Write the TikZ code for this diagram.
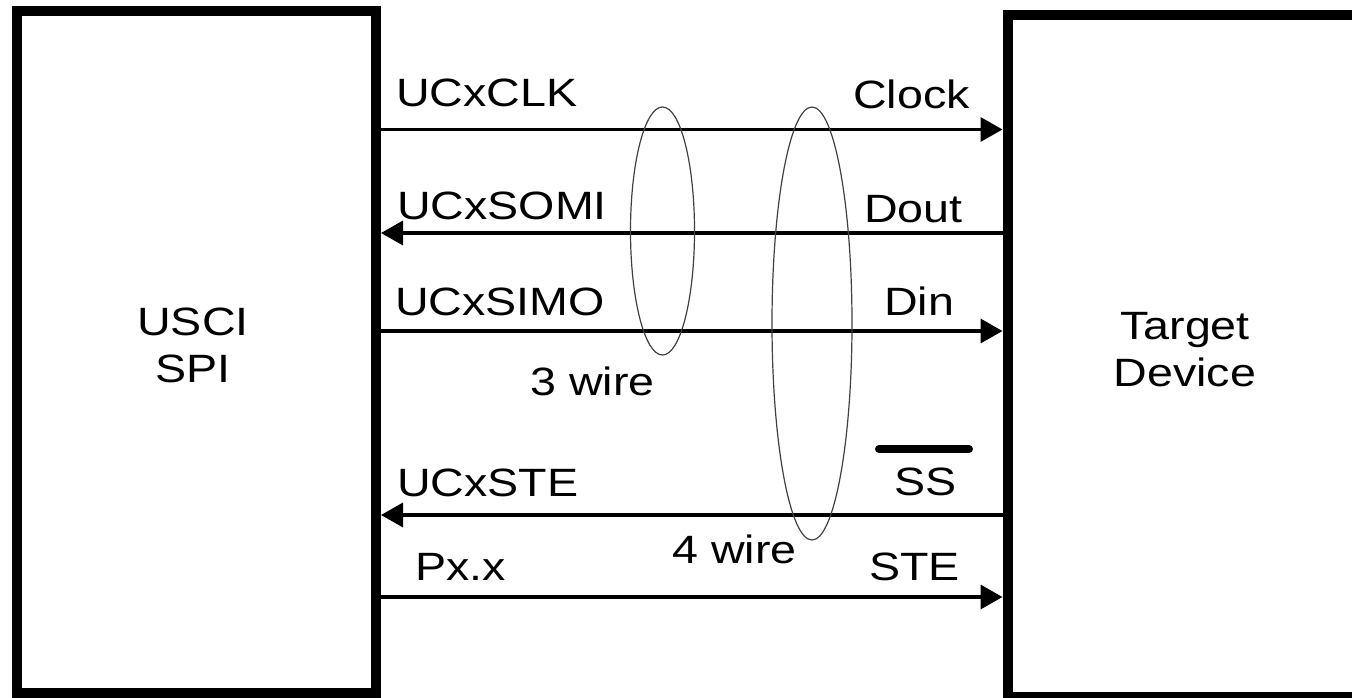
\documentclass[tikz,border=0pt]{standalone}
\usepackage{fontspec}
\newfontfamily\lab[FakeStretch=1.18]{Liberation Sans}
\usetikzlibrary{arrows.meta,shapes.geometric}
\tikzset{
  blk/.style={draw, line width=10pt, rectangle, inner sep=0pt},
  wire/.style={line width=3.5pt, -{Triangle[length=22pt,width=24pt]}},
  lbl/.style={anchor=base west, inner sep=0pt, font=\lab\fontsize{39.5}{46}\selectfont},
  big/.style={align=center, inner sep=0pt, font=\lab\fontsize{39.5}{47}\selectfont},
  grp/.style={draw=black!75, line width=1.2pt, ellipse, inner sep=0pt},
}
\begin{document}
\begin{tikzpicture}[x=1pt,y=-1pt]
\useasboundingbox (0,0) rectangle (1352,697);
\clip (0,0) rectangle (1352,697);
% boxes
\node[blk, minimum width=359.5pt, minimum height=682.5pt] (L) at (196.25,351.75) {};
\node[blk, minimum width=380pt, minimum height=682.5pt] (R) at (1197.5,355.75) {};
\node[big] (usci) at (193,345) {USCI\\SPI};
\node[big] (tgt) at (1185,350) {Target\\Device};
% wires
\coordinate (y1) at (0,129.5);
\coordinate (y2) at (0,233);
\coordinate (y3) at (0,331);
\coordinate (y4) at (0,515);
\coordinate (y5) at (0,597);
\draw[wire] (L.east|-y1) -- (R.west|-y1);
\draw[wire] (R.west|-y2) -- (L.east|-y2);
\draw[wire] (L.east|-y3) -- (R.west|-y3);
\draw[wire] (R.west|-y4) -- (L.east|-y4);
\draw[wire] (L.east|-y5) -- (R.west|-y5);
% labels
\node[lbl] (t1) at (396,106) {UCxCLK};
\node[lbl] (t2) at (853,108) {Clock};
\node[lbl] (t3) at (397,219) {UCxSOMI};
\node[lbl] (t4) at (864,222) {Dout};
\node[lbl] (t5) at (395,315) {UCxSIMO};
\node[lbl] (t6) at (884,315) {Din};
\node[lbl] (t7) at (530,395) {3 wire};
\node[lbl] (t8) at (397,496) {UCxSTE};
\node[lbl] (t9) at (894,495) {SS};
\node[lbl] (t10) at (672,563) {4 wire};
\node[lbl] (t11) at (869,580) {STE};
\node[lbl] (t12) at (415,580) {Px.x};
\draw[line width=8pt, line cap=round] (879,449) -- (969,449);
% groupings
\node[grp, minimum width=64pt, minimum height=248pt] (e1) at (662.5,231) {};
\node[grp, minimum width=80pt, minimum height=433pt] (e2) at (812,323.5) {};
\end{tikzpicture}
\end{document}
